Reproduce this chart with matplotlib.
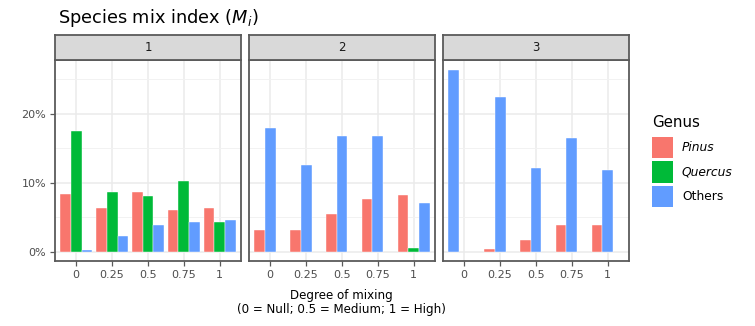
import numpy as np
import matplotlib
matplotlib.use("Agg")
import matplotlib.pyplot as plt
from matplotlib.patches import Rectangle

plt.rcParams['font.family'] = ['DejaVu Sans']

mixing = [0, 0.25, 0.5, 0.75, 1]
mixing_labels = ["0", "0.25", "0.5", "0.75", "1"]
panels = ["1", "2", "3"]
genera = ["Pinus", "Quercus", "Others"]
genus_colors = ["#F8766D", "#00BA38", "#619CFF"]

# percentages; None = genus absent at that mixing degree
pinus_1 = [8.4, 6.3, 8.6, 6.1, 6.3]
quercus_1 = [17.5, 8.6, 8.1, 10.2, 4.3]
others_1 = [0.3, 2.3, 3.8, 4.3, 4.6]
pinus_2 = [3.2, 3.2, 5.4, 7.6, 8.2]
quercus_2 = [None, None, None, None, 0.5]
others_2 = [17.9, 12.5, 16.8, 16.8, 7.0]
pinus_3 = [None, 0.4, 1.7, 3.9, 3.9]
quercus_3 = [None, None, None, None, None]
others_3 = [26.4, 22.4, 12.1, 16.5, 11.8]

panel_data = [
    [pinus_1, quercus_1, others_1],
    [pinus_2, quercus_2, others_2],
    [pinus_3, quercus_3, others_3],
]

W, H = 755, 326
fig = plt.figure(figsize=(W / 100, H / 100), dpi=100)

def fx(px):
    return px / W

def fy(py):
    return 1 - py / H

panel_lefts = [55, 249, 443]
panel_w = 186
plot_top, plot_bot = 60, 261
strip_top = 35

total_w = 0.9 * 0.25
n_max = 3
bar_w = total_w / n_max
border_col = "#5A5A5A"

for p, left in enumerate(panel_lefts):
    ax = fig.add_axes([fx(left), fy(plot_bot), fx(panel_w), (plot_bot - plot_top) / H])
    ax.set_xlim(-0.148, 1.148)
    ax.set_ylim(-1.35, 27.8)
    ax.set_yticks([0, 10, 20])
    ax.set_yticks([5, 15, 25], minor=True)
    ax.set_xticks(mixing)
    ax.set_xticklabels(mixing_labels)
    ax.grid(True, which='major', color='#EBEBEB', linewidth=1.1, zorder=0)
    ax.grid(True, which='minor', axis='y', color='#F2F2F2', linewidth=0.7, zorder=0)
    ax.set_axisbelow(True)
    ax.tick_params(which='minor', length=0)
    ax.tick_params(which='major', length=3.5, width=0.9, color=border_col,
                   labelsize=8, labelcolor='#4D4D4D', pad=3)
    for s in ax.spines.values():
        s.set_color(border_col)
        s.set_linewidth(1.3)
    if p == 0:
        ax.set_yticklabels([f"{v}%" for v in [0, 10, 20]])
    else:
        ax.tick_params(axis='y', which='both', left=False, labelleft=False)

    series = panel_data[p]
    for i, xv in enumerate(mixing):
        present = [g for g in range(3) if series[g][i] is not None]
        for k, g in enumerate(present):
            off = total_w * ((k + 0.5) / n_max - 0.5)
            ax.bar(xv + off, series[g][i], width=bar_w, color=genus_colors[g],
                   edgecolor='white', linewidth=0.3, zorder=2)

    # strip
    sax = fig.add_axes([fx(left), fy(plot_top), fx(panel_w), (plot_top - strip_top) / H])
    sax.set_xticks([]); sax.set_yticks([])
    sax.set_facecolor('#D9D9D9')
    for s in sax.spines.values():
        s.set_color(border_col)
        s.set_linewidth(1.3)
    sax.text(0.5, 0.5, panels[p], ha='center', va='center', fontsize=8.5,
             color='#1A1A1A', transform=sax.transAxes)

# title
fig.text(fx(58), fy(18), r"Species mix index ($M_i$)", fontsize=12.8, ha='left', va='center',
         color='black')

# x axis title
fig.text(fx(341), fy(295), "Degree of mixing", fontsize=8.6, ha='center', va='center')
fig.text(fx(341), fy(310), "(0 = Null; 0.5 = Medium; 1 = High)", fontsize=8.6,
         ha='center', va='center')

# legend
fig.text(fx(652), fy(122), "Genus", fontsize=10.8, ha='left', va='center')
key_tops = [136.5, 161, 185.5]
styles = ['italic', 'italic', 'normal']
for g in range(3):
    kt = key_tops[g]
    fig.patches.append(Rectangle((fx(652), fy(kt + 21.5)), fx(21), 21.5 / H,
                                 transform=fig.transFigure, facecolor=genus_colors[g],
                                 edgecolor='none'))
    fig.text(fx(682), fy(kt + 10.8), genera[g], fontsize=8.8, style=styles[g],
             ha='left', va='center')

fig.savefig("out.png", dpi=100)
